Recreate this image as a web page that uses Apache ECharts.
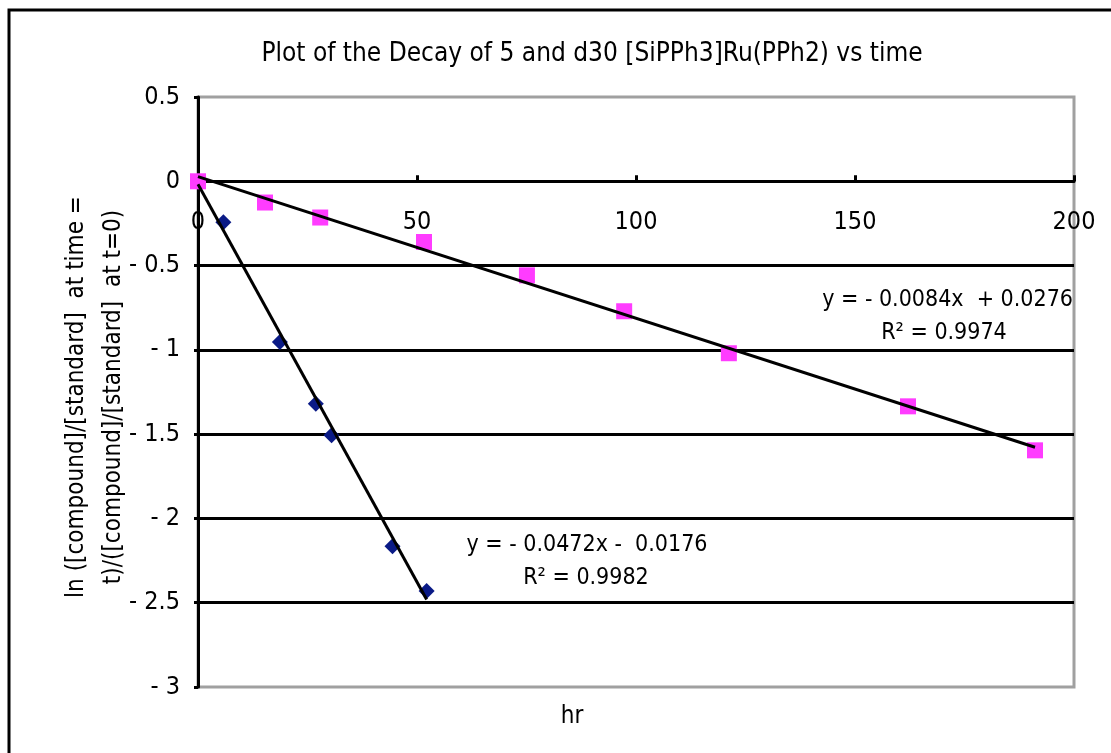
<!DOCTYPE html>
<html>
<head>
<meta charset="utf-8">
<script src="https://cdn.jsdelivr.net/npm/echarts@6/dist/echarts.min.js"></script>
<style>
html,body{margin:0;padding:0;background:#fff;}
#chart{width:1111px;height:753px;}
</style>
</head>
<body>
<div id="chart"></div>
<script>
// ---- data ----
const titleText = 'Plot of the Decay of 5 and d30 [SiPPh3]Ru(PPh2) vs time';
const xAxisName = 'hr';
const yAxisNameLines = ['ln ([compound]/[standard]  at time =', 't)/([compound]/[standard]  at t=0)'];

const blueX = [0, 5.8, 18.7, 26.9, 30.5, 44.4, 52.2];
const blueY = [0, -0.243, -0.953, -1.319, -1.506, -2.165, -2.43];

const pinkX = [0, 15.3, 27.9, 51.6, 75.1, 97.3, 121.2, 162.1, 191.1];
const pinkY = [0, -0.126, -0.215, -0.36, -0.558, -0.771, -1.02, -1.335, -1.596];

// trendline end points (from the fitted equations shown on the chart)
const blueTrendX = [0, 52.2];
const blueTrendY = [-0.0176, -2.4814];
const pinkTrendX = [0, 191.1];
const pinkTrendY = [0.0276, -1.5776];

const blueEq = ['y = - 0.0472x -  0.0176', 'R\u00b2 = 0.9982'];
const pinkEq = ['y = - 0.0084x  + 0.0276', 'R\u00b2 = 0.9974'];

const xTicks = {min: 0, max: 200, step: 50};
const yTicks = {min: -3, max: 0.5, step: 0.5};

// ---- chart ----
const F = "'DejaVu Sans Condensed', 'DejaVu Sans', sans-serif";
const zip = (xs, ys) => xs.map((x, i) => [x, ys[i]]);

const GRID = {left: 198, top: 97, right: 37, bottom: 66};
const plotH = 753 - GRID.top - GRID.bottom;
// pixel distance from the bottom of the plot up to y = 0
const zeroOffset = plotH * (0 - yTicks.min) / (yTicks.max - yTicks.min);

const chart = echarts.init(document.getElementById('chart'), null, {renderer: 'canvas'});

const nY = Math.round((yTicks.max - yTicks.min) / yTicks.step) + 1;
const splitColors = [];
for (let i = 0; i < nY; i++) splitColors.push(i === 0 || i === nY - 1 ? 'rgba(0,0,0,0)' : '#000');

chart.setOption({
  animation: false,
  backgroundColor: '#fff',
  grid: {
    left: GRID.left, top: GRID.top, right: GRID.right, bottom: GRID.bottom,
    show: true, borderColor: '#a0a0a0', borderWidth: 3, backgroundColor: 'transparent'
  },
  xAxis: {
    type: 'value', min: xTicks.min, max: xTicks.max, interval: xTicks.step,
    position: 'bottom', offset: -zeroOffset,
    axisLine: {show: true, onZero: false, lineStyle: {color: '#000', width: 3}},
    axisTick: {show: true, inside: true, length: 6, lineStyle: {color: '#000', width: 3}},
    axisLabel: {color: '#000', fontFamily: F, fontSize: 25, margin: 29},
    splitLine: {show: false}
  },
  yAxis: {
    type: 'value', min: yTicks.min, max: yTicks.max, interval: yTicks.step,
    axisLine: {show: true, onZero: false, lineStyle: {color: '#000', width: 3}},
    axisTick: {show: true, inside: false, length: 4, lineStyle: {color: '#000', width: 3}},
    axisLabel: {
      color: '#000', fontFamily: F, fontSize: 25, margin: 18,
      formatter: v => v < 0 ? '- ' + Math.abs(v) : String(v)
    },
    splitLine: {show: true, lineStyle: {color: splitColors, width: 3}}
  },
  series: [
    {
      type: 'scatter', name: 'blue', data: zip(blueX, blueY),
      symbol: 'diamond', symbolSize: 16,
      itemStyle: {color: '#0a1a86', opacity: 1}, z: 2
    },
    {
      type: 'scatter', name: 'pink', data: zip(pinkX, pinkY),
      symbol: 'rect', symbolSize: 16,
      itemStyle: {color: '#ff3cff', opacity: 1}, z: 3
    },
    {
      type: 'line', data: zip(blueTrendX, blueTrendY), showSymbol: false, symbol: 'none',
      lineStyle: {color: '#000', width: 3}, z: 5
    },
    {
      type: 'line', data: zip(pinkTrendX, pinkTrendY), showSymbol: false, symbol: 'none',
      lineStyle: {color: '#000', width: 3}, z: 5
    }
  ],
  graphic: [
    {type: 'rect', shape: {x: 9, y: 10, width: 1300, height: 900},
     style: {fill: 'none', stroke: '#000', lineWidth: 3}, silent: true, z: 100},
    {type: 'text', x: 592, y: 54,
     style: {text: titleText, font: '26px ' + F, fill: '#000', textAlign: 'center', textVerticalAlign: 'middle'}},
    {type: 'text', x: 572, y: 717,
     style: {text: xAxisName, font: '24px ' + F, fill: '#000', textAlign: 'center', textVerticalAlign: 'middle'}},
    {type: 'text', x: 95, y: 397, rotation: Math.PI / 2,
     style: {text: yAxisNameLines.join('\n'), font: '24px ' + F, lineHeight: 37, fill: '#000', textAlign: 'center', textVerticalAlign: 'middle'}},
    {type: 'text', x: 1073, y: 300,
     style: {text: pinkEq[0], font: '23px ' + F, fill: '#000', textAlign: 'right', textVerticalAlign: 'middle'}},
    {type: 'text', x: 944, y: 333,
     style: {text: pinkEq[1], font: '23px ' + F, fill: '#000', textAlign: 'center', textVerticalAlign: 'middle'}},
    {type: 'text', x: 587, y: 545,
     style: {text: blueEq[0], font: '23px ' + F, fill: '#000', textAlign: 'center', textVerticalAlign: 'middle'}},
    {type: 'text', x: 586, y: 578,
     style: {text: blueEq[1], font: '23px ' + F, fill: '#000', textAlign: 'center', textVerticalAlign: 'middle'}}
  ]
});
</script>
</body>
</html>
